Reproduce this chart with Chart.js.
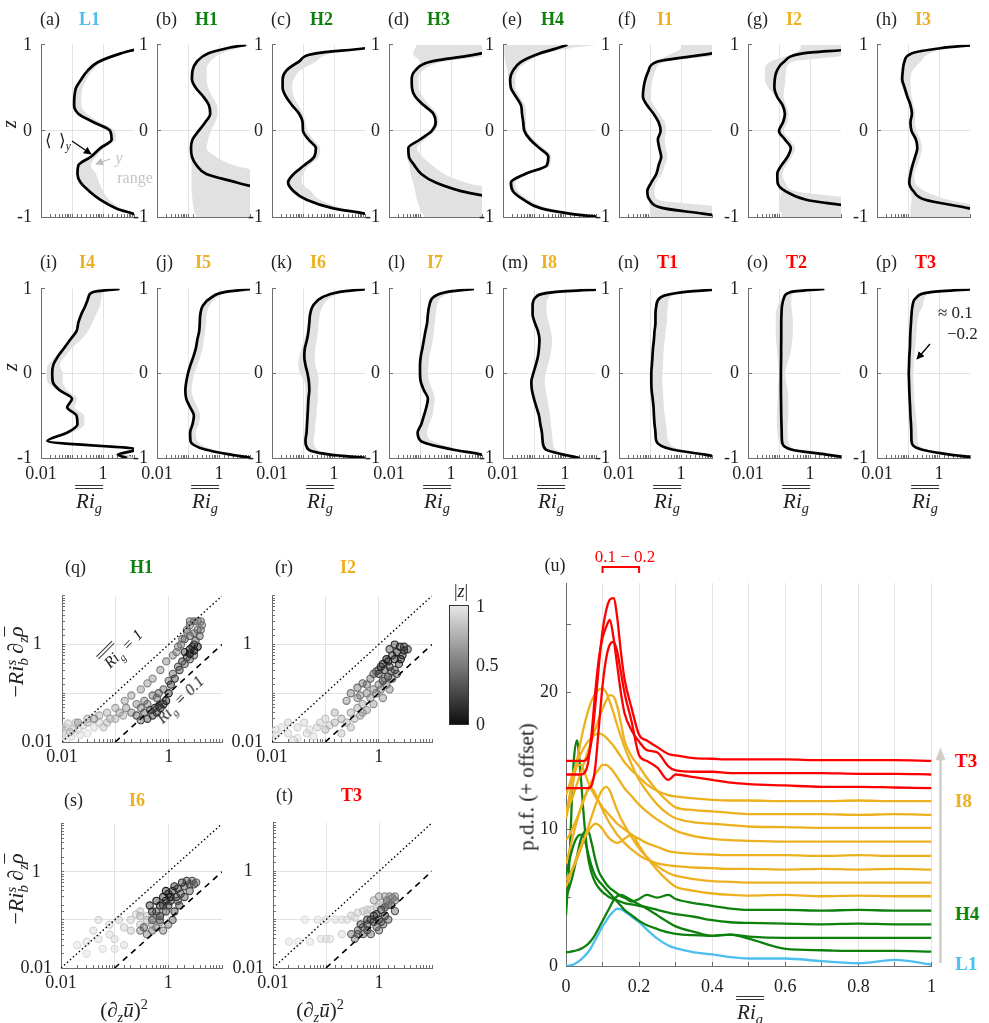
<!DOCTYPE html>
<html>
<head>
<meta charset="utf-8">
<title>Ri_g profiles and p.d.f.s</title>
<script src="https://cdn.jsdelivr.net/npm/chart.js@4.4.1/dist/chart.umd.min.js"></script>
<style>
  html, body { margin: 0; padding: 0; background: #fff; }
  #fig { position: relative; width: 989px; height: 1023px; overflow: hidden;
         font-family: "Liberation Serif", "Times New Roman", serif; color: #222; }
  #fig canvas { position: absolute; }
  .lb { position: absolute; white-space: nowrap; line-height: 1; }
  .ri { display: inline-block; border-top: 4px double #333; padding: 2px 1px 0; font-style: italic; }
  .lb sub, .lb sup { line-height: 0; font-size: 0.68em; }
  .ss { display: inline-block; vertical-align: -0.35em; line-height: 0.85; font-size: 0.68em; text-align: left; }
  .bar { display: inline-block; border-top: 1px solid #222; line-height: 0.9; padding-top: 1px; }
</style>
</head>
<body>
<div id="fig"></div>
<script>
// ---------------- data: mean Ri_g profiles (a)-(p) ----------------
const zLevels = [-1, -0.96, -0.9, -0.8, -0.7, -0.6, -0.5, -0.4, -0.3, -0.2, -0.1, 0, 0.1, 0.2, 0.3, 0.4, 0.5, 0.6, 0.7, 0.8, 0.9, 0.96, 1];

const meanL1 = [20, 9, 2.7, 0.83, 0.36, 0.19, 0.15, 0.16, 0.41, 0.82, 1.9, 1.7, 0.5, 0.16, 0.117, 0.12, 0.135, 0.2, 0.32, 0.7, 3.8, 15, 30];
const loL1   = [20, 8, 2.4, 0.75, 0.33, 0.18, 0.14, 0.15, 0.37, 0.72, 1.7, 1.5, 0.45, 0.15, 0.11, 0.11, 0.125, 0.18, 0.3, 0.65, 3.4, 14, 30];
const hiL1   = [30, 12, 4, 1.6, 1.0, 0.75, 0.6, 0.4, 0.6, 1.1, 2.6, 2.4, 0.8, 0.3, 0.2, 0.2, 0.22, 0.3, 0.45, 0.95, 4.5, 16, 30];

const meanH1 = [30, 30, 30, 30, 30, 3.7, 0.39, 0.19, 0.134, 0.125, 0.14, 0.22, 0.36, 0.52, 0.47, 0.31, 0.178, 0.134, 0.14, 0.19, 0.44, 1.8, 7.5];
const loH1   = [0.2, 0.17, 0.15, 0.14, 0.13, 0.13, 0.13, 0.13, 0.12, 0.115, 0.13, 0.2, 0.33, 0.48, 0.43, 0.28, 0.16, 0.12, 0.125, 0.17, 0.4, 1.6, 7];
const hiH1   = [30, 30, 30, 30, 30, 30, 30, 3, 0.8, 0.4, 0.45, 0.55, 0.75, 0.9, 0.85, 0.6, 0.45, 0.4, 0.4, 0.5, 1.2, 4, 10];

const meanH2 = [30, 10, 0.95, 0.13, 0.05, 0.033, 0.05, 0.11, 0.23, 0.26, 0.15, 0.1, 0.097, 0.075, 0.044, 0.028, 0.022, 0.022, 0.029, 0.071, 0.26, 10, 30];
const loH2   = [30, 9, 0.8, 0.1, 0.04, 0.03, 0.045, 0.1, 0.21, 0.24, 0.14, 0.095, 0.09, 0.07, 0.042, 0.027, 0.021, 0.021, 0.027, 0.065, 0.24, 9, 30];
const hiH2   = [30, 12, 2, 0.35, 0.18, 0.09, 0.1, 0.16, 0.33, 0.36, 0.22, 0.14, 0.12, 0.1, 0.07, 0.05, 0.045, 0.05, 0.08, 0.25, 0.8, 12, 30];

const meanH3 = [30, 30, 30, 30, 2.1, 0.32, 0.11, 0.066, 0.044, 0.042, 0.1, 0.24, 0.32, 0.27, 0.13, 0.07, 0.055, 0.054, 0.07, 0.2, 9.5, 20, 30];
const loH3   = [0.15, 0.12, 0.1, 0.08, 0.07, 0.06, 0.05, 0.045, 0.038, 0.038, 0.09, 0.22, 0.29, 0.24, 0.12, 0.064, 0.05, 0.05, 0.062, 0.1, 0.06, 0.07, 0.08];
const hiH3   = [30, 30, 30, 30, 30, 3, 0.6, 0.25, 0.12, 0.08, 0.15, 0.3, 0.4, 0.35, 0.2, 0.12, 0.09, 0.09, 0.12, 0.5, 30, 30, 30];

const meanH4 = [12, 1.4, 0.17, 0.047, 0.021, 0.018, 0.052, 0.26, 0.29, 0.15, 0.075, 0.049, 0.045, 0.041, 0.038, 0.026, 0.018, 0.017, 0.021, 0.037, 0.15, 0.55, 1.2];
const loH4   = [12, 1.2, 0.15, 0.04, 0.019, 0.016, 0.045, 0.22, 0.26, 0.14, 0.07, 0.046, 0.042, 0.038, 0.035, 0.024, 0.016, 0.015, 0.014, 0.012, 0.011, 0.011, 0.011];
const hiH4   = [14, 2, 0.3, 0.07, 0.03, 0.025, 0.07, 0.33, 0.36, 0.2, 0.1, 0.06, 0.055, 0.055, 0.05, 0.035, 0.025, 0.025, 0.03, 0.06, 0.25, 1.5, 12];

const meanI1 = [30, 5, 0.29, 0.097, 0.082, 0.11, 0.16, 0.19, 0.23, 0.2, 0.18, 0.22, 0.19, 0.13, 0.08, 0.059, 0.062, 0.071, 0.09, 0.16, 10, 30, 30];
const loI1   = [0.1, 0.1, 0.1, 0.09, 0.075, 0.1, 0.14, 0.17, 0.2, 0.18, 0.16, 0.2, 0.17, 0.12, 0.075, 0.055, 0.057, 0.065, 0.082, 0.14, 0.5, 1, 1];
const hiI1   = [30, 30, 30, 0.18, 0.14, 0.16, 0.24, 0.3, 0.36, 0.32, 0.3, 0.33, 0.3, 0.2, 0.13, 0.1, 0.11, 0.12, 0.15, 0.3, 30, 30, 30];

const meanI2 = [30, 30, 30, 0.75, 0.16, 0.09, 0.088, 0.12, 0.19, 0.24, 0.155, 0.1, 0.135, 0.155, 0.13, 0.086, 0.071, 0.073, 0.086, 0.14, 0.6, 30, 30];
const loI2   = [0.12, 0.12, 0.1, 0.1, 0.12, 0.08, 0.08, 0.11, 0.17, 0.22, 0.14, 0.095, 0.12, 0.14, 0.12, 0.08, 0.045, 0.035, 0.035, 0.05, 0.3, 0.5, 0.5];
const hiI2   = [30, 30, 30, 30, 0.35, 0.16, 0.13, 0.17, 0.26, 0.33, 0.22, 0.14, 0.19, 0.2, 0.17, 0.14, 0.15, 0.16, 0.17, 0.25, 30, 30, 30];

const meanI3 = [30, 30, 9.5, 0.36, 0.15, 0.11, 0.12, 0.14, 0.17, 0.2, 0.18, 0.13, 0.12, 0.134, 0.12, 0.095, 0.078, 0.065, 0.068, 0.076, 0.13, 1.1, 15];
const loI3   = [0.12, 0.12, 0.12, 0.13, 0.12, 0.095, 0.1, 0.12, 0.15, 0.18, 0.16, 0.12, 0.11, 0.12, 0.11, 0.085, 0.065, 0.055, 0.06, 0.068, 0.11, 0.8, 12];
const hiI3   = [30, 30, 30, 2, 0.35, 0.17, 0.16, 0.2, 0.25, 0.28, 0.25, 0.19, 0.17, 0.17, 0.15, 0.13, 0.12, 0.12, 0.14, 0.25, 0.5, 2, 20];

const meanI4 = [6, 3, 12, 0.016, 0.07, 0.15, 0.14, 0.07, 0.1, 0.04, 0.024, 0.023, 0.025, 0.035, 0.056, 0.088, 0.14, 0.16, 0.2, 0.27, 0.34, 0.46, 3.4];
const loI4   = [5, 2.5, 8, 0.015, 0.065, 0.14, 0.13, 0.065, 0.09, 0.036, 0.016, 0.015, 0.017, 0.03, 0.05, 0.08, 0.13, 0.15, 0.18, 0.25, 0.32, 0.42, 3];
const hiI4   = [10, 6, 14, 0.022, 0.1, 0.25, 0.25, 0.12, 0.15, 0.07, 0.05, 0.05, 0.04, 0.06, 0.1, 0.2, 0.33, 0.45, 0.6, 0.8, 0.9, 1, 4];

const meanI5 = [12, 2.4, 0.36, 0.12, 0.117, 0.14, 0.155, 0.117, 0.088, 0.082, 0.088, 0.1, 0.12, 0.15, 0.18, 0.2, 0.23, 0.24, 0.25, 0.3, 0.58, 1.5, 12];
const loI5   = [12, 2.2, 0.33, 0.11, 0.11, 0.13, 0.145, 0.11, 0.082, 0.076, 0.08, 0.092, 0.11, 0.14, 0.17, 0.19, 0.21, 0.22, 0.23, 0.28, 0.55, 1.4, 11];
const hiI5   = [14, 3, 0.6, 0.2, 0.18, 0.22, 0.25, 0.2, 0.15, 0.13, 0.14, 0.16, 0.2, 0.25, 0.3, 0.32, 0.36, 0.38, 0.4, 0.5, 0.9, 2, 14];

const meanI6 = [12, 0.75, 0.15, 0.12, 0.13, 0.135, 0.14, 0.145, 0.15, 0.16, 0.155, 0.14, 0.12, 0.11, 0.115, 0.135, 0.15, 0.16, 0.17, 0.21, 0.42, 1.4, 12];
const loI6   = [12, 0.7, 0.14, 0.11, 0.11, 0.12, 0.12, 0.12, 0.12, 0.12, 0.11, 0.08, 0.07, 0.075, 0.09, 0.11, 0.13, 0.14, 0.15, 0.19, 0.38, 1.3, 11];
const hiI6   = [14, 1, 0.3, 0.22, 0.24, 0.25, 0.27, 0.28, 0.3, 0.3, 0.32, 0.3, 0.25, 0.24, 0.25, 0.28, 0.3, 0.32, 0.35, 0.45, 0.8, 2, 14];

const meanI7 = [20, 10, 1.1, 0.106, 0.084, 0.11, 0.134, 0.16, 0.18, 0.134, 0.106, 0.1, 0.1, 0.106, 0.12, 0.134, 0.15, 0.17, 0.18, 0.2, 0.27, 0.7, 5.5];
const loI7   = [20, 9, 1, 0.09, 0.075, 0.1, 0.12, 0.15, 0.17, 0.12, 0.098, 0.092, 0.092, 0.1, 0.11, 0.125, 0.14, 0.16, 0.17, 0.19, 0.25, 0.65, 5];
const hiI7   = [20, 12, 2, 0.25, 0.17, 0.2, 0.25, 0.28, 0.3, 0.25, 0.2, 0.18, 0.19, 0.2, 0.23, 0.26, 0.28, 0.3, 0.32, 0.35, 0.5, 1.2, 7];

const meanI8 = [3, 0.9, 0.24, 0.19, 0.18, 0.16, 0.145, 0.12, 0.1, 0.086, 0.082, 0.095, 0.114, 0.134, 0.145, 0.15, 0.134, 0.106, 0.09, 0.09, 0.114, 0.44, 30];
const loI8   = [3, 0.85, 0.22, 0.17, 0.17, 0.15, 0.14, 0.11, 0.095, 0.08, 0.078, 0.09, 0.11, 0.13, 0.14, 0.14, 0.13, 0.1, 0.085, 0.085, 0.11, 0.4, 30];
const hiI8   = [4, 1.5, 0.5, 0.4, 0.38, 0.35, 0.33, 0.3, 0.27, 0.24, 0.22, 0.24, 0.28, 0.33, 0.37, 0.38, 0.35, 0.3, 0.26, 0.25, 0.3, 0.8, 30];

const meanT1 = [20, 6, 0.52, 0.16, 0.15, 0.14, 0.134, 0.13, 0.122, 0.113, 0.11, 0.11, 0.115, 0.12, 0.125, 0.134, 0.14, 0.15, 0.15, 0.16, 0.22, 1.2, 30];
const loT1   = [20, 5.5, 0.48, 0.15, 0.14, 0.13, 0.125, 0.12, 0.115, 0.105, 0.1, 0.1, 0.105, 0.11, 0.115, 0.125, 0.13, 0.14, 0.14, 0.15, 0.2, 1.1, 30];
const hiT1   = [20, 7, 0.9, 0.4, 0.35, 0.33, 0.3, 0.28, 0.27, 0.26, 0.25, 0.25, 0.26, 0.27, 0.28, 0.3, 0.32, 0.35, 0.36, 0.38, 0.45, 1.6, 30];

const meanT2 = [20, 3.4, 0.25, 0.125, 0.122, 0.12, 0.118, 0.117, 0.116, 0.115, 0.115, 0.115, 0.116, 0.117, 0.117, 0.118, 0.118, 0.118, 0.12, 0.125, 0.147, 0.23, 2.9];
const loT2   = [20, 3, 0.22, 0.1, 0.09, 0.085, 0.085, 0.088, 0.09, 0.092, 0.095, 0.1, 0.095, 0.09, 0.085, 0.08, 0.078, 0.078, 0.08, 0.09, 0.13, 0.2, 2.7];
const hiT2   = [20, 4, 0.35, 0.2, 0.19, 0.19, 0.2, 0.2, 0.2, 0.19, 0.17, 0.16, 0.18, 0.22, 0.25, 0.27, 0.28, 0.28, 0.27, 0.25, 0.25, 0.35, 3.2];

const meanT3 = [20, 2.3, 0.27, 0.13, 0.128, 0.125, 0.12, 0.117, 0.113, 0.11, 0.108, 0.106, 0.108, 0.11, 0.115, 0.117, 0.12, 0.125, 0.13, 0.14, 0.19, 0.55, 20];
const loT3   = [20, 2.1, 0.25, 0.12, 0.12, 0.118, 0.113, 0.11, 0.107, 0.104, 0.102, 0.1, 0.102, 0.104, 0.108, 0.11, 0.113, 0.118, 0.122, 0.13, 0.18, 0.5, 20];
const hiT3   = [20, 2.8, 0.4, 0.2, 0.2, 0.19, 0.18, 0.17, 0.16, 0.155, 0.15, 0.15, 0.155, 0.16, 0.17, 0.18, 0.19, 0.2, 0.22, 0.3, 0.35, 0.8, 20];

// ---------------- data: scatter panels (q)-(t), [shear^2, stratification, |z|] ----------------
const scatterH1 = [
  [0.01,0.015,0.95],[0.012,0.02,0.9],[0.015,0.013,0.92],[0.02,0.018,0.88],[0.025,0.022,0.85],[0.03,0.015,0.95],[0.04,0.02,0.9],[0.05,0.025,0.85],[0.012,0.011,0.97],[0.018,0.025,0.8],[0.01,0.02,0.75],[0.014,0.016,0.7],
  [0.01,0.013,0.9],[0.013,0.024,0.85],[0.016,0.018,0.8],[0.022,0.014,0.93],[0.03,0.025,0.75],[0.06,0.02,0.8],[0.08,0.03,0.7],
  [0.03,0.03,0.72],[0.05,0.035,0.7],[0.07,0.04,0.68],[0.1,0.05,0.66],[0.07,0.025,0.75],[0.1,0.03,0.72],[0.14,0.035,0.7],[0.02,0.025,0.6],[0.04,0.03,0.55],
  [0.12,0.04,0.6],[0.16,0.05,0.55],[0.25,0.06,0.5],[0.35,0.07,0.45],[0.5,0.09,0.4],[0.65,0.1,0.35],
  [0.15,0.07,0.6],[0.2,0.09,0.58],[0.3,0.12,0.56],[0.4,0.16,0.55],[0.5,0.2,0.54],[0.7,0.3,0.52],[0.9,0.45,0.5],[1.2,0.6,0.5],[1.5,0.9,0.48],[1.8,1.3,0.47],[2.2,2,0.45],[2.5,3,0.42],
  [0.2,0.04,0.45],[0.3,0.05,0.42],[0.4,0.06,0.4],[0.6,0.08,0.38],[0.8,0.12,0.36],[1,0.18,0.35],[1.2,0.25,0.34],[1.5,0.35,0.32],
  [0.3,0.028,0.25],[0.4,0.03,0.2],[0.5,0.035,0.15],[0.6,0.04,0.12],[0.7,0.05,0.1],[0.8,0.06,0.08],[0.9,0.07,0.05],
  [0.25,0.035,0.3],[0.35,0.04,0.28],[0.45,0.045,0.22],[0.55,0.05,0.18],[0.65,0.055,0.15],[1.0,0.1,0.1],[1.1,0.15,0.15],[1.3,0.2,0.2],[1.6,0.3,0.25],[1.8,0.45,0.2],[2.2,0.55,0.15],
  [2,0.4,0.3],[2.5,0.5,0.28],[3,0.6,0.3],[2,0.7,0.1],[2.5,0.8,0.08],[3,1,0.1],[2,1.3,0.35],[2.5,1.5,0.38],[3,1.7,0.4],[3.5,2,0.4],[2.5,2.5,0.45],[3,3,0.42],[3.5,3,0.44],[4,3,0.46],[2.5,0.65,0.02],[3,0.75,0.03],[3.5,0.9,0.02],
  [2.8,0.9,0.12],[3.2,1.2,0.3],[3.8,1.5,0.35],[4,2,0.4],[4.2,2.5,0.45],[2.2,1.8,0.5],[1.7,1.0,0.45],[1.4,0.7,0.5]
];
const scatterI2 = [
  [0.01,0.012,0.95],[0.015,0.02,0.92],[0.02,0.015,0.9],[0.03,0.02,0.9],[0.04,0.025,0.88],[0.05,0.018,0.9],[0.07,0.02,0.85],[0.1,0.03,0.85],[0.012,0.018,0.93],[0.03,0.012,0.95],[0.02,0.025,0.85],[0.06,0.013,0.92],
  [0.012,0.014,0.9],[0.025,0.011,0.9],[0.045,0.015,0.88],[0.08,0.025,0.85],[0.12,0.022,0.8],
  [0.1,0.018,0.75],[0.15,0.025,0.72],[0.2,0.03,0.7],[0.3,0.04,0.68],[0.4,0.05,0.66],[0.5,0.06,0.65],[0.2,0.015,0.78],[0.3,0.02,0.75],[0.15,0.04,0.7],
  [0.25,0.025,0.72],[0.35,0.03,0.7],[0.45,0.035,0.65],[0.6,0.045,0.62],
  [0.4,0.08,0.55],[0.6,0.1,0.52],[0.8,0.12,0.5],[1,0.15,0.5],[1.3,0.2,0.48],[0.5,0.04,0.6],[0.8,0.06,0.58],[1.2,0.08,0.56],[1.6,0.12,0.5],
  [0.7,0.08,0.55],[0.9,0.1,0.5],[1.1,0.12,0.45],[1.4,0.15,0.4],[1.8,0.2,0.35],[2.2,0.25,0.3],[0.6,0.15,0.4],[0.45,0.09,0.5],
  [0.3,0.1,0.45],[0.4,0.13,0.42],[0.5,0.16,0.4],[0.7,0.2,0.38],[0.9,0.28,0.36],[1,0.3,0.3],[0.8,0.25,0.35],[0.25,0.07,0.5],
  [1,0.25,0.2],[1.3,0.3,0.18],[1.6,0.35,0.15],[1.2,0.18,0.25],[1.5,0.22,0.22],[2,0.3,0.2],[1.1,0.35,0.12],[1.7,0.28,0.25],[2.4,0.4,0.15],
  [1.5,0.45,0.08],[2,0.5,0.06],[1.8,0.6,0.1],[2.2,0.7,0.05],[2.5,0.9,0.12],[3,0.9,0.15],[2,1,0.1],[3.5,0.8,0.2],[1.2,0.4,0.1],
  [2.8,0.6,0.1],[3,0.75,0.12],[2.6,0.5,0.08],[1.4,0.5,0.05],[1.6,0.8,0.2]
];
const scatterI6 = [
  [0.02,0.03,0.95],[0.03,0.035,0.92],[0.05,0.04,0.93],[0.08,0.05,0.9],[0.1,0.04,0.9],[0.06,0.025,0.95],[0.1,0.025,0.94],[0.15,0.03,0.92],[0.04,0.06,0.9],[0.08,0.08,0.88],[0.12,0.1,0.87],[0.2,0.1,0.86],[0.03,0.02,0.96],[0.05,0.1,0.9],
  [0.2,0.06,0.8],[0.3,0.08,0.8],[0.4,0.1,0.78],[0.5,0.12,0.78],[0.3,0.15,0.82],[0.4,0.12,0.8],[0.6,0.12,0.75],[0.8,0.15,0.74],[0.25,0.13,0.85],[0.3,0.12,0.75],[0.15,0.07,0.85],
  [0.3,0.06,0.5],[0.4,0.05,0.45],[0.5,0.06,0.45],[0.6,0.07,0.4],[0.8,0.06,0.42],[1,0.08,0.4],[0.35,0.07,0.3],[0.5,0.08,0.6],[0.7,0.09,0.55],
  [0.5,0.15,0.15],[0.7,0.2,0.12],[0.9,0.25,0.1],[1,0.35,0.1],[1.2,0.4,0.12],[1.5,0.45,0.15],[2,0.5,0.2],[2.5,0.55,0.25],[3,0.55,0.3],[0.8,0.3,0.08],[1,0.2,0.15],[1.3,0.15,0.2],[1.6,0.2,0.22],[2,0.3,0.25],[2.5,0.4,0.28],[1.2,0.1,0.3],[0.7,0.12,0.2],
  [0.5,0.1,0.3],[0.6,0.15,0.2],[0.7,0.1,0.35],[0.8,0.2,0.15],[0.9,0.15,0.25],[1.1,0.25,0.15],[1.4,0.3,0.15],[1.7,0.35,0.2],[1.1,0.3,0.05],[1.3,0.5,0.1],[1.8,0.6,0.15],[2.2,0.65,0.2],[2.8,0.65,0.28],[3.3,0.6,0.35],[1.5,0.25,0.25],[0.6,0.25,0.05],[0.45,0.2,0.1],[0.9,0.4,0.05]
];
const scatterT3 = [
  [0.02,0.035,0.95],[0.03,0.035,0.95],[0.05,0.035,0.94],[0.08,0.04,0.93],[0.1,0.1,0.93],[0.15,0.1,0.92],[0.2,0.1,0.92],[0.12,0.04,0.92],[0.2,0.05,0.9],[0.07,0.1,0.94],[0.1,0.04,0.93],[0.04,0.1,0.95],
  [0.3,0.12,0.85],[0.4,0.14,0.85],[0.5,0.15,0.84],[0.7,0.16,0.84],[0.9,0.18,0.82],[1.2,0.2,0.8],[0.6,0.13,0.83],[0.25,0.1,0.9],[0.35,0.11,0.88],[0.6,0.16,0.86],[1,0.2,0.82],[1.4,0.22,0.78],
  [1,0.3,0.6],[1.3,0.3,0.6],[1.6,0.3,0.58],[2,0.3,0.56],[0.8,0.25,0.65],
  [0.3,0.05,0.35],[0.4,0.06,0.3],[0.5,0.07,0.25],[0.6,0.08,0.2],[0.8,0.09,0.18],[1,0.1,0.15],[1.3,0.12,0.2],[0.5,0.05,0.3],[0.7,0.05,0.3],[1,0.06,0.35],[1.2,0.08,0.3],[1.5,0.1,0.28],[2,0.15,0.3],[0.8,0.12,0.15],[1.5,0.2,0.4],[2,0.25,0.45],[0.35,0.04,0.35],
  [0.4,0.05,0.3],[0.6,0.06,0.28],[0.9,0.07,0.3],[1.1,0.09,0.25],[0.7,0.1,0.12],[0.9,0.13,0.1],[1.1,0.16,0.15],[1.3,0.18,0.3],[1.7,0.2,0.4],[1.8,0.28,0.5],[1.4,0.25,0.45],[0.6,0.1,0.2],[0.45,0.08,0.2]
];
// guide lines Ri_g = 1 (dotted) and Ri_g = 0.1 (dashed)
const dottedShear = [0.01, 10], dottedStrat = [0.01, 10];
const dashedShear = [0.1, 10],  dashedStrat = [0.01, 1];

// ---------------- data: p.d.f.s of Ri_g, panel (u) ----------------
const pdfRi = [0, 0.01, 0.02, 0.03, 0.04, 0.05, 0.06, 0.07, 0.08, 0.09, 0.1, 0.11, 0.12, 0.13, 0.14, 0.15, 0.16, 0.18, 0.2, 0.22, 0.25, 0.28, 0.3, 0.35, 0.4, 0.45, 0.5, 0.6, 0.7, 0.8, 0.9, 1];
const pdfL1 = [0, 0.04, 0.1, 0.25, 0.45, 0.7, 1.0, 1.4, 1.9, 2.4, 2.9, 3.3, 3.7, 4.0, 4.2, 4.15, 4.0, 3.6, 3.2, 2.7, 2.0, 1.5, 1.3, 1.0, 0.85, 0.65, 0.55, 0.55, 0.35, 0.2, 0.45, 0.1];
const pdfH1 = [0, 0.03, 0.08, 0.15, 0.25, 0.4, 0.6, 0.9, 1.3, 1.8, 2.3, 2.8, 3.3, 3.8, 4.1, 4.2, 4.1, 3.8, 3.5, 3.2, 2.7, 2.2, 1.9, 1.5, 1.2, 1.3, 1.0, 0.25, 0.15, 0.1, 0.1, 0.05];
const pdfH2 = [4.7, 5.8, 6.8, 7.4, 7.6, 7.3, 6.3, 5.3, 4.6, 4.2, 3.9, 3.6, 3.3, 3.0, 2.7, 2.4, 2.1, 1.7, 1.3, 1.0, 0.7, 0.45, 0.35, 0.25, 0.2, 0.3, 0.15, 0.05, 0.05, 0.05, 0.05, 0.05];
const pdfH3 = [0.7, 5, 11.5, 13.5, 11, 7.5, 5, 3.8, 3.1, 2.7, 2.4, 2.2, 2.0, 1.9, 1.8, 1.7, 1.6, 1.5, 1.4, 1.3, 1.1, 0.9, 0.8, 0.6, 0.35, 0.2, 0.15, 0.1, 0.05, 0.1, 0.05, 0.05];
const pdfH4 = [1.0, 1.8, 2.8, 4.0, 5.2, 5.8, 5.9, 5.0, 3.8, 2.9, 2.4, 2.0, 1.7, 1.5, 1.3, 1.1, 1.0, 0.7, 0.9, 1.2, 1.0, 1.2, 0.9, 0.6, 0.4, 0.2, 0.1, 0.1, 0.05, 0.1, 0.05, 0.05];
const pdfI1 = [0.8, 1.5, 2.3, 3.0, 3.7, 4.3, 4.8, 5.2, 5.4, 5.3, 5.0, 4.6, 4.3, 4.1, 4.0, 4.1, 4.3, 4.6, 3.8, 3.0, 2.0, 1.2, 0.8, 0.5, 0.3, 0.2, 0.15, 0.2, 0.1, 0.15, 0.1, 0.1];
const pdfI2 = [0.3, 0.7, 1.2, 1.8, 2.5, 3.3, 4.1, 4.9, 5.7, 6.4, 6.9, 7.1, 6.8, 6.1, 5.4, 4.8, 4.3, 3.4, 2.6, 2.0, 1.3, 0.8, 0.6, 0.35, 0.2, 0.15, 0.1, 0.1, 0.1, 0.1, 0.1, 0.1];
const pdfI3 = [0.5, 1.5, 2.6, 3.6, 4.5, 5.3, 5.9, 6.0, 5.6, 5.0, 4.4, 3.9, 3.4, 3.0, 2.6, 2.3, 2.0, 1.5, 1.1, 0.8, 0.5, 0.35, 0.3, 0.2, 0.15, 0.1, 0.1, 0.05, 0.1, 0.05, 0.1, 0.05];
const pdfI4 = [3.0, 4.5, 5.8, 6.6, 6.7, 6.2, 5.5, 4.9, 4.4, 4.0, 3.6, 3.3, 3.0, 2.7, 2.4, 2.2, 2.0, 1.6, 1.3, 1.0, 0.7, 0.4, 0.3, 0.2, 0.15, 0.1, 0.1, 0.1, 0.05, 0.1, 0.05, 0.05];
const pdfI5 = [0.2, 0.6, 1.2, 1.8, 2.5, 3.2, 3.9, 4.5, 5.0, 5.4, 5.7, 5.7, 5.5, 5.2, 4.8, 4.4, 4.0, 3.4, 2.8, 2.3, 1.7, 1.2, 0.9, 0.5, 0.3, 0.2, 0.15, 0.1, 0.1, 0.1, 0.1, 0.1];
const pdfI6 = [0.8, 2.0, 3.5, 5.0, 6.4, 7.6, 8.6, 9.4, 9.9, 10.2, 10.3, 10.0, 9.3, 8.5, 7.6, 6.8, 6.0, 4.7, 3.6, 2.8, 1.8, 1.1, 0.8, 0.5, 0.4, 0.3, 0.2, 0.15, 0.1, 0.1, 0.1, 0.1];
const pdfI7 = [0.3, 0.8, 1.5, 2.3, 3.1, 3.9, 4.7, 5.5, 6.3, 7.1, 7.8, 8.4, 8.8, 8.7, 8.0, 6.8, 5.5, 4.3, 3.6, 2.8, 1.8, 1.0, 0.6, 0.4, 0.3, 0.2, 0.1, 0.1, 0.1, 0.05, 0.1, 0.05];
const pdfI8 = [0.5, 1.3, 2.2, 2.9, 3.5, 4.0, 4.4, 4.7, 4.9, 5.0, 4.9, 4.7, 4.4, 4.1, 3.7, 3.3, 2.9, 2.3, 1.8, 1.3, 0.8, 0.5, 0.4, 0.25, 0.15, 0.1, 0.1, 0.05, 0.05, 0.1, 0.05, 0.05];
const pdfT1 = [0, 0, 0, 0, 0, 0, 0, 0.2, 1.5, 4.5, 7.5, 9.5, 10.5, 10.7, 10.0, 8.5, 7.0, 4.8, 2.4, 2.0, 1.5, 0.6, 1.0, 0.8, 0.6, 0.4, 0.3, 0.2, 0.1, 0.1, 0.05, 0];
const pdfT2 = [0, 0, 0, 0, 0, 0.1, 0.8, 3.0, 6.0, 8.5, 10.0, 10.8, 11.3, 10.0, 8.0, 6.0, 4.5, 3.2, 2.4, 1.8, 1.6, 0.6, 0.3, 0.2, 0.2, 0.1, 0.1, 0.1, 0.1, 0.05, 0.05, 0];
const pdfT3 = [0, 0, 0, 0, 0, 0, 0.3, 1.5, 4.0, 7.0, 9.5, 11.0, 11.8, 11.9, 10.5, 8.0, 6.0, 3.8, 1.9, 1.5, 1.0, 0.5, 0.4, 0.2, 0.15, 0.1, 0.1, 0.1, 0.05, 0.05, 0.05, 0];
const runNames  = ['L1','H1','H2','H3','H4','I1','I2','I3','I4','I5','I6','I7','I8','T1','T2','T3'];
const pdfOffset = [0, 1, 2, 3, 4, 5, 6, 7, 8, 9, 10, 11, 12, 13, 14, 15];
const bracketSpan = [0.1, 0.2];

// ---------------- styling / layout ----------------
const runColor = {L: '#4DBEEE', H: '#0E800E', I: '#EDB120', T: '#FF0000'};
const fig = document.getElementById('fig');
const SERIF = 'Liberation Serif';
const TICKFONT = {family: SERIF, size: 18};
Chart.defaults.font.family = SERIF;
Chart.defaults.font.size = 18;
Chart.defaults.color = '#222';

const AXIS = '#6e6e6e', GRID = '#e3e3e3', NONE = 'rgba(0,0,0,0)';
const near = (v, t) => Math.abs(v - t) < 1e-9;
const isDecade = v => { const l = Math.log10(v); return Math.abs(l - Math.round(l)) < 1e-6; };
const gray = (z, a) => { const g = Math.round(15 + 215 * z); return a === undefined ? `rgb(${g},${g},${g})` : `rgba(${g},${g},${g},${a})`; };

function put(html, x, y, css, tf) {
  const d = document.createElement('div');
  d.className = 'lb';
  d.innerHTML = html;
  d.style.cssText = `left:${x}px;top:${y}px;transform:${tf || 'translate(-50%,-50%)'};` + (css || '');
  fig.appendChild(d);
  return d;
}

function makeChart(box, pad, config) {
  const c = document.createElement('canvas');
  const w = box.w + pad.l + pad.r, h = box.h + pad.t + pad.b;
  c.width = w; c.height = h;
  c.style.cssText = `left:${box.x - pad.l}px;top:${box.y - pad.t}px;width:${w}px;height:${h}px;`;
  fig.appendChild(c);
  const o = config.options;
  Object.assign(o, {responsive: false, animation: false, devicePixelRatio: 1, events: [],
    layout: {padding: {left: 0, top: pad.t, right: pad.r, bottom: 0}}});
  o.plugins = Object.assign({legend: {display: false}, tooltip: {enabled: false}}, o.plugins || {});
  o.scales.x.afterFit = s => { s.height = pad.b; };
  o.scales.y.afterFit = s => { s.width = pad.l; };
  return new Chart(c, config);
}

function logAxis(labelled, padding) {
  return {
    type: 'logarithmic', min: 0.01, max: 10,
    border: {color: AXIS, width: 1},
    grid: {color: ctx => (ctx.tick && isDecade(ctx.tick.value) && ctx.tick.value > 0.011 && ctx.tick.value < 9) ? GRID : NONE,
           tickColor: AXIS, tickLength: -3},
    ticks: {autoSkip: false, maxRotation: 0, minRotation: 0, padding: padding, font: TICKFONT, color: '#222',
            callback: v => !labelled ? '' : near(v, 0.01) ? '0.01' : near(v, 1) ? '1' : ''}
  };
}

// ---------------- panels (a)-(p) ----------------
const profiles = [
  ['(a)','L1',meanL1,loL1,hiL1], ['(b)','H1',meanH1,loH1,hiH1], ['(c)','H2',meanH2,loH2,hiH2], ['(d)','H3',meanH3,loH3,hiH3],
  ['(e)','H4',meanH4,loH4,hiH4], ['(f)','I1',meanI1,loI1,hiI1], ['(g)','I2',meanI2,loI2,hiI2], ['(h)','I3',meanI3,loI3,hiI3],
  ['(i)','I4',meanI4,loI4,hiI4], ['(j)','I5',meanI5,loI5,hiI5], ['(k)','I6',meanI6,loI6,hiI6], ['(l)','I7',meanI7,loI7,hiI7],
  ['(m)','I8',meanI8,loI8,hiI8], ['(n)','T1',meanT1,loT1,hiT1], ['(o)','T2',meanT2,loT2,hiT2], ['(p)','T3',meanT3,loT3,hiT3]
];
const colLefts = [41, 157, 272, 389, 503, 619, 748, 877];
const rowTop = [33, 277], rowBottom = [217, 458], titleY = [19, 262];

profiles.forEach((p, i) => {
  const row = Math.floor(i / 8), col = i % 8;
  const box = {x: colLefts[col], y: rowTop[row], w: 97, h: rowBottom[row] - rowTop[row]};
  const pts = arr => arr.map((v, k) => ({x: v, y: zLevels[k]}));
  const common = {pointRadius: 0, cubicInterpolationMode: 'monotone'};
  makeChart(box, {l: 36, t: 12, r: 4, b: 30}, {
    type: 'line',
    data: {datasets: [
      Object.assign({data: pts(p[2]), borderColor: '#000', borderWidth: 2.7, fill: false}, common),
      Object.assign({data: pts(p[3]), borderColor: NONE, borderWidth: 0, fill: false}, common),
      Object.assign({data: pts(p[4]), borderColor: NONE, borderWidth: 0, fill: 1, backgroundColor: '#e1e1e1'}, common)
    ]},
    options: {
      indexAxis: 'y',
      scales: {
        x: logAxis(row === 1, 8),
        y: {type: 'linear', min: -1, max: 1,
            border: {color: AXIS, width: 1},
            grid: {color: ctx => ctx.tick && ctx.tick.value === 0 ? GRID : NONE, tickColor: AXIS, tickLength: -4},
            ticks: {stepSize: 1, padding: 13, font: TICKFONT, color: '#222', callback: v => String(v)}}
      }
    }
  });
  put(p[0], box.x - 1, titleY[row], 'font-size:18px;', 'translate(0,-50%)');
  put(p[1], box.x + 38, titleY[row], `font-size:18px;font-weight:bold;color:${runColor[p[1][0]]};`, 'translate(0,-50%)');
  if (row === 1) put('<span class="ri">Ri<sub>g</sub></span>', box.x + 48, 485, 'font-size:21px;', 'translate(-50%,0)');
});
put('<i>z</i>', 9, 124, 'font-size:20px;', 'translate(-50%,-50%) rotate(-90deg)');
put('<i>z</i>', 10, 367, 'font-size:20px;', 'translate(-50%,-50%) rotate(-90deg)');

// annotations in (a) and (p)
put('⟨&thinsp;&thinsp;⟩<sub><i>y</i></sub>', 58, 140, 'font-size:17px;');
put('<i>y</i>', 119, 158, 'font-size:16px;color:#c4c4c4;');
put('range', 135, 178, 'font-size:16px;color:#c4c4c4;');
put('≈ 0.1', 938, 312, 'font-size:17px;', 'translate(0,-50%)');
put('−0.2', 947, 333, 'font-size:17px;', 'translate(0,-50%)');

// ---------------- panels (q)-(t) ----------------
const scatters = [
  {tag: '(q)', run: 'H1', pts: scatterH1, box: {x: 62, y: 583, w: 161, h: 159}, tY: 567},
  {tag: '(r)', run: 'I2', pts: scatterI2, box: {x: 272, y: 583, w: 161, h: 159}, tY: 567},
  {tag: '(s)', run: 'I6', pts: scatterI6, box: {x: 61, y: 811, w: 162, h: 157}, tY: 800},
  {tag: '(t)', run: 'T3', pts: scatterT3, box: {x: 273, y: 810, w: 160, h: 158}, tY: 795}
];
scatters.forEach(s => {
  const yAxis = logAxis(true, 12);
  yAxis.ticks.crossAlign = 'center';
  makeChart(s.box, {l: 48, t: 10, r: 6, b: 30}, {
    type: 'scatter',
    data: {datasets: [
      {type: 'line', data: dottedShear.map((v, k) => ({x: v, y: dottedStrat[k]})), borderColor: '#000', borderWidth: 1.4, borderDash: [1.5, 2.5], pointRadius: 0},
      {type: 'line', data: dashedShear.map((v, k) => ({x: v, y: dashedStrat[k]})), borderColor: '#000', borderWidth: 1.6, borderDash: [6, 5], pointRadius: 0},
      {data: s.pts.map(p => ({x: p[0], y: p[1]})), pointRadius: 3.6, pointBorderWidth: 1.1,
       pointBorderColor: s.pts.map(p => gray(p[2])), pointBackgroundColor: s.pts.map(p => gray(p[2], 0.4))}
    ]},
    options: {scales: {x: logAxis(true, 7), y: yAxis}}
  });
  put(s.tag, s.box.x + 3, s.tY, 'font-size:18px;', 'translate(0,-50%)');
  put(s.run, s.box.x + 68, s.tY, `font-size:18px;font-weight:bold;color:${runColor[s.run[0]]};`, 'translate(0,-50%)');
});
const riStrat = '−<i>Ri</i><span class="ss"><i>s</i><br><i>b</i></span>&thinsp;∂<sub><i>z</i></sub><i class="bar">ρ</i>';
put(riStrat, 17, 662, 'font-size:22px;', 'translate(-50%,-50%) rotate(-90deg)');
put(riStrat, 17, 889, 'font-size:22px;', 'translate(-50%,-50%) rotate(-90deg)');
put('(∂<sub><i>z</i></sub><i>ū</i>)<sup>2</sup>', 124, 1010, 'font-size:21px;');
put('(∂<sub><i>z</i></sub><i>ū</i>)<sup>2</sup>', 320, 1010, 'font-size:21px;');
put('<span class="ri">Ri<sub>g</sub></span> = 1', 121, 647, 'font-size:16px;font-style:italic;', 'translate(-50%,-50%) rotate(-45deg)');
put('<span class="ri">Ri<sub>g</sub></span> = 0.1', 178, 698, 'font-size:16px;font-style:italic;', 'translate(-50%,-50%) rotate(-45deg)');

// colour bar for |z|
const cb = document.createElement('div');
cb.style.cssText = 'position:absolute;left:449px;top:605px;width:20px;height:120px;border:1px solid #333;box-sizing:border-box;background:linear-gradient(to top,' + gray(0) + ',' + gray(1) + ');';
fig.appendChild(cb);
put('|<i>z</i>|', 461, 591, 'font-size:18px;');
put('1', 476, 606, 'font-size:18px;', 'translate(0,-50%)');
put('0.5', 476, 665, 'font-size:18px;', 'translate(0,-50%)');
put('0', 476, 724, 'font-size:18px;', 'translate(0,-50%)');

// ---------------- panel (u) ----------------
const pdfSeries = [pdfL1, pdfH1, pdfH2, pdfH3, pdfH4, pdfI1, pdfI2, pdfI3, pdfI4, pdfI5, pdfI6, pdfI7, pdfI8, pdfT1, pdfT2, pdfT3];
const pdfDecor = {
  id: 'pdfDecor',
  afterDraw(chart) {
    const {ctx, chartArea, scales} = chart;
    ctx.save();
    const bx1 = scales.x.getPixelForValue(bracketSpan[0]), bx2 = scales.x.getPixelForValue(bracketSpan[1]);
    const by = chartArea.top - 16;
    ctx.strokeStyle = '#ff0000'; ctx.lineWidth = 2;
    ctx.beginPath(); ctx.moveTo(bx1, by + 6); ctx.lineTo(bx1, by); ctx.lineTo(bx2, by); ctx.lineTo(bx2, by + 6); ctx.stroke();
    const ax = chartArea.right + 9, ay0 = scales.y.getPixelForValue(0) - 3, ay1 = scales.y.getPixelForValue(16);
    ctx.strokeStyle = '#cfcfc8'; ctx.fillStyle = '#cfcfc8'; ctx.lineWidth = 2.5;
    ctx.beginPath(); ctx.moveTo(ax, ay0); ctx.lineTo(ax, ay1 + 8); ctx.stroke();
    ctx.beginPath(); ctx.moveTo(ax, ay1); ctx.lineTo(ax - 5, ay1 + 13); ctx.lineTo(ax + 5, ay1 + 13); ctx.closePath(); ctx.fill();
    ctx.restore();
  }
};
makeChart({x: 566, y: 583, w: 368, h: 383}, {l: 44, t: 32, r: 16, b: 34}, {
  type: 'line',
  data: {datasets: runNames.map((name, k) => ({
    data: pdfRi.map((r, j) => ({x: r, y: pdfSeries[k][j] + pdfOffset[k]})),
    borderColor: runColor[name[0]], borderWidth: 2.3, pointRadius: 0, cubicInterpolationMode: 'monotone', fill: false
  })).reverse()},
  options: {
    scales: {
      x: {type: 'linear', min: 0, max: 1,
          border: {color: AXIS, width: 1},
          grid: {color: ctx => ctx.tick && ctx.tick.value > 0.001 ? GRID : NONE, tickColor: AXIS, tickLength: -4},
          ticks: {stepSize: 0.1, autoSkip: false, maxRotation: 0, padding: 14, font: TICKFONT, color: '#222',
                  callback: v => (Math.round(v * 10) % 2 === 0) ? String(Math.round(v * 10) / 10) : ''}},
      y: {type: 'linear', min: 0, max: 28,
          border: {color: AXIS, width: 1},
          grid: {drawOnChartArea: false, tickColor: AXIS, tickLength: -5},
          ticks: {stepSize: 5, includeBounds: false, padding: 13, font: TICKFONT, color: '#222',
                  callback: v => v % 10 === 0 ? String(v) : ''}}
    }
  },
  plugins: [pdfDecor]
});
put('(u)', 555, 565, 'font-size:18px;');
put('0.1 − 0.2', 625, 556, 'font-size:17px;color:#ff0000;');
put('p.d.f. (+ offset)', 527, 787, 'font-size:21px;', 'translate(-50%,-50%) rotate(-90deg)');
put('<span class="ri">Ri<sub>g</sub></span>', 750, 996, 'font-size:21px;', 'translate(-50%,0)');
put('T3', 955, 760, `font-size:19px;font-weight:bold;color:${runColor.T};`, 'translate(0,-50%)');
put('I8', 955, 800, `font-size:19px;font-weight:bold;color:${runColor.I};`, 'translate(0,-50%)');
put('H4', 955, 913, `font-size:19px;font-weight:bold;color:${runColor.H};`, 'translate(0,-50%)');
put('L1', 955, 963, `font-size:19px;font-weight:bold;color:${runColor.L};`, 'translate(0,-50%)');

// ---------------- annotation arrows ----------------
fig.insertAdjacentHTML('beforeend',
  '<svg width="989" height="1023" style="position:absolute;left:0;top:0;pointer-events:none">' +
  '<defs><marker id="ah" viewBox="0 0 10 10" refX="9" refY="5" markerWidth="6" markerHeight="6" orient="auto"><path d="M0,0 L10,5 L0,10 z" fill="#000"/></marker>' +
  '<marker id="ahg" viewBox="0 0 10 10" refX="9" refY="5" markerWidth="6" markerHeight="6" orient="auto"><path d="M0,0 L10,5 L0,10 z" fill="#bdbdbd"/></marker></defs>' +
  '<line x1="72" y1="141" x2="91" y2="154" stroke="#000" stroke-width="1.3" marker-end="url(#ah)"/>' +
  '<line x1="110" y1="159" x2="96" y2="164" stroke="#bdbdbd" stroke-width="1.3" marker-end="url(#ahg)"/>' +
  '<line x1="930" y1="344" x2="917" y2="359" stroke="#000" stroke-width="1.3" marker-end="url(#ah)"/>' +
  '</svg>');
</script>
</body>
</html>
